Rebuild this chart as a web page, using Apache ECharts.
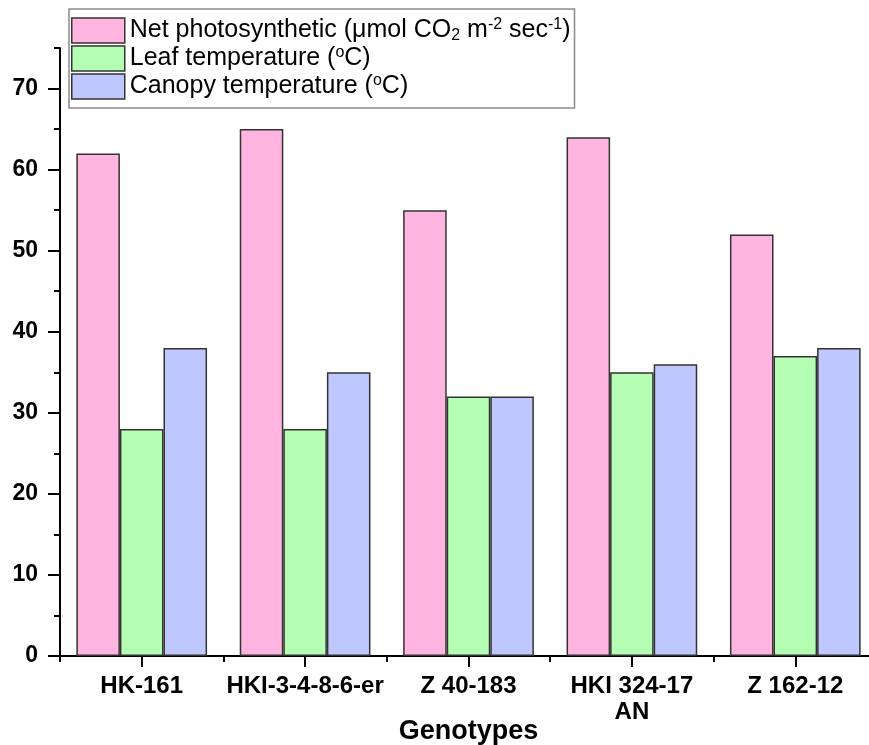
<!DOCTYPE html>
<html>
<head>
<meta charset="utf-8">
<script src="https://cdn.jsdelivr.net/npm/echarts@6/dist/echarts.min.js"></script>
<style>html,body{margin:0;padding:0;background:#fff}#c{width:869px;height:745px}</style>
</head>
<body>
<div id="c"></div>
<script>
var categories = ['HK-161', 'HKI-3-4-8-6-er', 'Z 40-183', 'HKI 324-17\nAN', 'Z 162-12'];
var seriesNames = ['Net photosynthetic', 'Leaf temperature', 'Canopy temperature'];
var legendLabels = [
  'Net photosynthetic (μmol CO{sub|2} m{sup|-2} sec{sup|-1})',
  'Leaf temperature ({sup|o}C)',
  'Canopy temperature ({sup|o}C)'
];
var netPhoto = [62, 65, 55, 64, 52];
var leafTemp = [28, 28, 32, 35, 37];
var canopyTemp = [38, 35, 32, 36, 38];
var yMajorTicks = [0, 10, 20, 30, 40, 50, 60, 70];
var yMinorTicks = [5, 15, 25, 35, 45, 55, 65, 75];
var colors = ['#FFB5E0', '#B5FFB5', '#BFC7FF'];

var font = "'Liberation Sans', Arial, sans-serif";
var chart = echarts.init(document.getElementById('c'));
var values = [netPhoto, leafTemp, canopyTemp];
var series = seriesNames.map(function (n, i) {
  return {
    name: n, type: 'bar', data: values[i], xAxisIndex: 0, yAxisIndex: 0,
    barGap: 0, barCategoryGap: '20%',
    itemStyle: { color: colors[i], borderColor: '#333', borderWidth: 1.5 },
    emphasis: { disabled: true }
  };
});
var baseY = {
  type: 'value', min: 0, max: 75, position: 'left',
  splitLine: { show: false },
  axisLine: { show: true, lineStyle: { color: '#000', width: 2 } }
};
chart.setOption({
  animation: false,
  backgroundColor: '#fff',
  grid: { left: 60, top: 48, width: 817, bottom: 89, containLabel: false, outerBoundsMode: 'none' },
  legend: {
    orient: 'vertical', left: 69, top: 9,
    padding: [8, 4, 8, 2], itemGap: 1,
    itemWidth: 53, itemHeight: 25,
    borderColor: '#8a8a8a', borderWidth: 1.5, backgroundColor: '#fff',
    icon: 'rect',
    itemStyle: { borderColor: '#333', borderWidth: 1.5 },
    data: seriesNames,
    formatter: function (name) { return legendLabels[seriesNames.indexOf(name)]; },
    textStyle: {
      fontFamily: font, fontSize: 25, color: '#000', lineHeight: 27,
      rich: {
        sub: { fontFamily: font, fontSize: 16, color: '#000', verticalAlign: 'bottom', lineHeight: 27 },
        sup: { fontFamily: font, fontSize: 16, color: '#000', verticalAlign: 'top', lineHeight: 27 }
      }
    }
  },
  xAxis: [{
    type: 'category', data: categories, position: 'bottom',
    name: 'Genotypes', nameLocation: 'middle', nameGap: 62, nameMoveOverlap: false,
    nameTextStyle: { fontFamily: font, fontSize: 27, fontWeight: 'bold', color: '#000' },
    axisLine: { show: true, lineStyle: { color: '#000', width: 2 } },
    axisTick: { show: true, alignWithLabel: true, length: 11, lineStyle: { color: '#000', width: 2 } },
    axisLabel: { margin: 17, interval: 0, fontFamily: font, fontSize: 24, fontWeight: 'bold', color: '#000', lineHeight: 26 }
  }, {
    type: 'category', data: categories, position: 'bottom', offset: 0,
    axisLine: { show: false },
    axisTick: { show: true, length: 6, interval: 0, lineStyle: { color: '#000', width: 2 } },
    axisLabel: { show: false }
  }],
  yAxis: [Object.assign({}, baseY, {
    axisTick: { show: true, length: 12, customValues: yMajorTicks, lineStyle: { color: '#000', width: 2 } },
    axisLabel: { margin: 22, customValues: yMajorTicks, fontFamily: font, fontSize: 23, fontWeight: 'bold', color: '#000' }
  }), Object.assign({}, baseY, {
    axisLine: { show: false },
    axisTick: { show: true, length: 6, customValues: yMinorTicks, lineStyle: { color: '#000', width: 2 } },
    axisLabel: { show: false }
  })],
  series: series
});
</script>
</body>
</html>
